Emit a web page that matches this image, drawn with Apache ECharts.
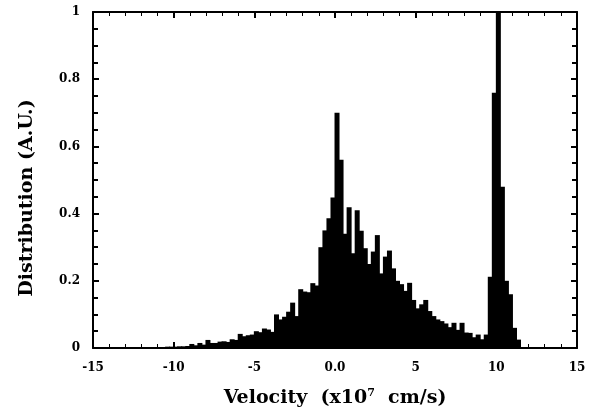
<!DOCTYPE html>
<html>
<head>
<meta charset="utf-8">
<script src="https://cdn.jsdelivr.net/npm/echarts@6/dist/echarts.min.js"></script>
<style>
  html, body { margin: 0; padding: 0; background: #fff; }
  #chart { width: 592px; height: 415px; }
</style>
</head>
<body>
<div id="chart"></div>
<script>
// histogram bins (x10^7 cm/s), left edge of first bin and bin width
var binStart = -10.5;
var binWidth = 0.25;
// distribution per bin
var distribution = [
    0.004, 0.004, 0.004, 0.005, 0.005, 0.006,
    0.012, 0.008, 0.015, 0.010, 0.024, 0.015, 0.015, 0.019, 0.020, 0.018,
    0.026, 0.024, 0.042, 0.035, 0.038, 0.040, 0.050, 0.047, 0.058, 0.055,
    0.048, 0.100, 0.085, 0.093, 0.108, 0.135, 0.095, 0.175, 0.168, 0.166,
    0.193, 0.186, 0.300, 0.350, 0.386, 0.448,
    0.700, 0.560, 0.340, 0.419, 0.282, 0.410, 0.349, 0.297, 0.250, 0.287,
    0.336, 0.222, 0.272, 0.290, 0.237, 0.200, 0.190, 0.170, 0.194, 0.143,
    0.118, 0.130, 0.143, 0.110, 0.095, 0.085, 0.080, 0.073, 0.062, 0.075,
    0.054, 0.075, 0.046, 0.045, 0.032, 0.040, 0.026, 0.040,
    0.212, 0.760, 1.000, 0.480, 0.200, 0.160, 0.060, 0.025
];
var xTicks = [-15, -10, -5, 0, 5, 10, 15];
var yTicks = [0, 0.2, 0.4, 0.6, 0.8, 1];

var myChart = echarts.init(document.getElementById('chart'));

// 柱子放在每个 bin 的中心
var barData = distribution.map(function (v, i) {
    return [binStart + binWidth * (i + 0.5), v];
});

var font = 'DejaVu Serif';
var axisBase = {
    axisLine: { show: true, onZero: false, lineStyle: { color: '#000', width: 2 } },
    axisTick: { show: true, inside: true, length: 6, lineStyle: { color: '#000', width: 2 } },
    splitLine: { show: false }
};

var option = {
    animation: false,
    grid: { left: 93, right: 15, top: 12, bottom: 67 },
    xAxis: [
        Object.assign({}, axisBase, {
            type: 'value',
            min: xTicks[0],
            max: xTicks[xTicks.length - 1],
            interval: 5,
            position: 'bottom',
            minorTick: { show: true, splitNumber: 5, length: 4, lineStyle: { color: '#000', width: 1 } },
            axisLabel: {
                margin: 14,
                color: '#000',
                fontFamily: font,
                fontWeight: 'bold',
                fontSize: 12,
                formatter: function (v) { return v === 0 ? '0.0' : String(v); }
            },
            name: 'Velocity  (x10{sup|7}  cm/s)',
            nameLocation: 'middle',
            nameGap: 40,
            nameTextStyle: {
                color: '#000',
                fontFamily: font,
                fontWeight: 'bold',
                fontSize: 19,
                rich: {
                    sup: { fontFamily: font, fontWeight: 'bold', fontSize: 11, color: '#000', padding: [0, 0, 10, 0] }
                }
            }
        }),
        Object.assign({}, axisBase, {
            type: 'value',
            min: xTicks[0],
            max: xTicks[xTicks.length - 1],
            interval: 5,
            position: 'top',
            minorTick: { show: true, splitNumber: 5, length: 4, lineStyle: { color: '#000', width: 1 } },
            axisLabel: { show: false }
        })
    ],
    yAxis: [
        Object.assign({}, axisBase, {
            type: 'value',
            min: yTicks[0],
            max: yTicks[yTicks.length - 1],
            interval: 0.2,
            position: 'left',
            minorTick: { show: true, splitNumber: 4, length: 5, lineStyle: { color: '#000', width: 2 } },
            axisLabel: {
                margin: 13,
                color: '#000',
                fontFamily: font,
                fontWeight: 'bold',
                fontSize: 12,
                formatter: function (v) {
                    if (v === 0) return '0';
                    if (v === 1) return '1';
                    return v.toFixed(1);
                }
            }
        }),
        Object.assign({}, axisBase, {
            type: 'value',
            min: yTicks[0],
            max: yTicks[yTicks.length - 1],
            interval: 0.2,
            position: 'right',
            minorTick: { show: true, splitNumber: 4, length: 5, lineStyle: { color: '#000', width: 2 } },
            axisLabel: { show: false }
        })
    ],
    // y 轴标题
    graphic: [{
        type: 'text',
        x: 27,
        y: 198,
        rotation: Math.PI / 2,
        style: {
            text: 'Distribution (A.U.)',
            fill: '#000',
            font: 'bold 19px "DejaVu Serif"',
            textAlign: 'center',
            textVerticalAlign: 'middle'
        }
    }],
    series: [{
        type: 'bar',
        xAxisIndex: 0,
        yAxisIndex: 0,
        barWidth: 5,
        itemStyle: { color: '#000' },
        data: barData
    }]
};
myChart.setOption(option);
</script>
</body>
</html>
